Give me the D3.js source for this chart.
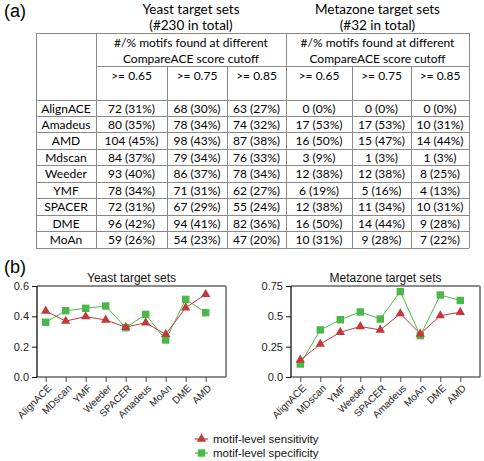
<!DOCTYPE html>
<html><head><meta charset="utf-8">
<script src="https://cdn.jsdelivr.net/npm/d3@7"></script>
<style>
html,body{margin:0;padding:0;background:#fff;}
svg{display:block;}
</style></head>
<body>
<svg id="c" width="484" height="461"></svg>
<script>
// ---------- Table data (a) ----------
const methods = ["AlignACE","Amadeus","AMD","Mdscan","Weeder","YMF","SPACER","DME","MoAn"];
const cutoffs = [">= 0.65", ">= 0.75", ">= 0.85"];
const yeastCount065 = [72,80,104,84,93,78,72,96,59];
const yeastPct065   = [31,35,45,37,40,34,31,42,26];
const yeastCount075 = [68,78,98,79,86,71,67,94,54];
const yeastPct075   = [30,34,43,34,37,31,29,41,23];
const yeastCount085 = [63,74,87,76,78,62,55,82,47];
const yeastPct085   = [27,32,38,33,34,27,24,36,20];
const metaCount065  = [0,17,16,3,12,6,12,16,10];
const metaPct065    = [0,53,50,9,38,19,38,50,31];
const metaCount075  = [0,17,15,1,12,5,11,14,9];
const metaPct075    = [0,53,47,3,38,16,34,44,28];
const metaCount085  = [0,10,14,1,8,4,10,9,7];
const metaPct085    = [0,31,44,3,25,13,31,28,22];

// ---------- Chart data (b) ----------
const tools = ["AlignACE","MDscan","YMF","Weeder","SPACER","Amadeus","MoAn","DME","AMD"];
const yeastSensitivity = [0.435,0.369,0.398,0.376,0.328,0.358,0.281,0.457,0.545];
const yeastSpecificity = [0.361,0.437,0.453,0.468,0.325,0.413,0.244,0.512,0.424];
const metaSensitivity  = [0.14,0.271,0.369,0.416,0.388,0.522,0.355,0.506,0.534];
const metaSpecificity  = [0.107,0.388,0.472,0.536,0.478,0.704,0.341,0.676,0.631];
const yeastTicks = [0,0.2,0.4,0.6];
const metaTicks = [0,0.25,0.5,0.75];
const yeastTickLabels = ["0.0","0.2","0.4","0.6"];
const metaTickLabels = ["0.0","0.25","0.5","0.75"];
const seriesNames = ["motif-level sensitivity","motif-level specificity"];

const RED = "#c0393b", GREEN = "#4cb84c";
const svg = d3.select("#c");
const TF = "Lato, 'Open Sans', sans-serif";
const AF = "'Liberation Sans', Arial, sans-serif";

// ---------- (a) table ----------
svg.append("text").attr("x",4).attr("y",17).attr("font-family",AF).attr("font-size",18).text("(a)");

const colX = [36, 96, 167, 227, 286, 352, 411, 469];
const tTop = 33, h1 = 66, h2 = 100, rowH = 16.45;
const rowScale = d3.scaleBand().domain(methods).range([h2, h2 + rowH*methods.length]).padding(0);
const tBottom = h2 + rowH*methods.length;
const g = svg.append("g").attr("stroke","#8a8a8a").attr("stroke-width",1).attr("shape-rendering","crispEdges");
g.append("line").attr("x1",colX[0]).attr("x2",colX[7]).attr("y1",tTop).attr("y2",tTop);
g.append("line").attr("x1",colX[1]).attr("x2",colX[7]).attr("y1",h1).attr("y2",h1);
methods.forEach(m=>{
  g.append("line").attr("x1",colX[0]).attr("x2",colX[7]).attr("y1",rowScale(m)).attr("y2",rowScale(m));
});
g.append("line").attr("x1",colX[0]).attr("x2",colX[7]).attr("y1",tBottom).attr("y2",tBottom);
[0,1,4,7].forEach(i=>g.append("line").attr("x1",colX[i]).attr("x2",colX[i]).attr("y1",tTop).attr("y2",tBottom));
[2,3,5,6].forEach(i=>g.append("line").attr("x1",colX[i]).attr("x2",colX[i]).attr("y1",h1).attr("y2",tBottom));

const tt = svg.append("g").attr("font-family",TF).attr("fill","#000").attr("text-anchor","middle");
const yc = (colX[1]+colX[4])/2, mc = (colX[4]+colX[7])/2;
tt.append("text").attr("x",yc).attr("y",14).attr("font-size",13.5).text("Yeast target sets");
tt.append("text").attr("x",yc).attr("y",30).attr("font-size",13.5).text("(#230 in total)");
tt.append("text").attr("x",mc).attr("y",14).attr("font-size",13.5).text("Metazone target sets");
tt.append("text").attr("x",mc).attr("y",30).attr("font-size",13.5).text("(#32 in total)");
[yc,mc].forEach(cx=>{
  tt.append("text").attr("x",cx).attr("y",47).attr("font-size",12).text("#/% motifs found at different");
  tt.append("text").attr("x",cx).attr("y",63).attr("font-size",12).text("CompareACE score cutoff");
});
for(let i=0;i<6;i++){
  tt.append("text").attr("x",(colX[i+1]+colX[i+2])/2).attr("y",80).attr("font-size",12).text(cutoffs[i%3]);
}
const columns = [
  [yeastCount065,yeastPct065],[yeastCount075,yeastPct075],[yeastCount085,yeastPct085],
  [metaCount065,metaPct065],[metaCount075,metaPct075],[metaCount085,metaPct085]
];
methods.forEach((m,r)=>{
  const cy = rowScale(m) + rowScale.bandwidth()/2 + 4.3;
  tt.append("text").attr("x",(colX[0]+colX[1])/2).attr("y",cy).attr("font-size",12).text(m);
  columns.forEach((col,c)=>{
    tt.append("text").attr("x",(colX[c+1]+colX[c+2])/2).attr("y",cy).attr("font-size",12)
      .text(`${col[0][r]} (${col[1][r]}%)`);
  });
});

// ---------- (b) charts ----------
svg.append("text").attr("x",4).attr("y",273).attr("font-family",AF).attr("font-size",18).text("(b)");

function chart(opts){
  const {left,right,x0,x1,ymax,ticks,tickLabels,title,sens,spec} = opts;
  const ptop = 286, pbot = 377;
  const x = d3.scalePoint().domain(tools).range([x0,x1]);
  const y = d3.scaleLinear().domain([0,ymax]).range([pbot,ptop]);
  const c = svg.append("g");
  c.append("line").attr("x1",left).attr("x2",right).attr("y1",ptop).attr("y2",ptop).attr("stroke","#8c8c8c").attr("stroke-width",2);
  c.append("line").attr("x1",right).attr("x2",right).attr("y1",ptop).attr("y2",pbot).attr("stroke","#8c8c8c").attr("stroke-width",2);
  c.append("line").attr("x1",left).attr("x2",right).attr("y1",pbot).attr("y2",pbot).attr("stroke","#666").attr("stroke-width",1.5);
  c.append("line").attr("x1",left).attr("x2",left).attr("y1",ptop).attr("y2",pbot).attr("stroke","#111").attr("stroke-width",1.3);
  const ya = c.append("g").attr("transform",`translate(${left},0)`)
    .call(d3.axisLeft(y).tickValues(ticks).tickFormat((d,i)=>tickLabels[i]).tickSize(5).tickSizeOuter(0));
  ya.select(".domain").remove();
  ya.selectAll("line").attr("stroke","#111");
  ya.selectAll("text").attr("font-family",AF).attr("font-size",11).attr("fill","#222").attr("x",-8);
  const xa = c.append("g").attr("transform",`translate(0,${pbot})`)
    .call(d3.axisBottom(x).tickSize(5).tickSizeOuter(0));
  xa.select(".domain").remove();
  xa.selectAll("line").attr("stroke","#444");
  xa.selectAll("text").attr("font-family",AF).attr("font-size",10).attr("fill","#222")
    .attr("text-anchor","end").attr("dy",null).attr("y",0)
    .attr("transform","translate(4,10) rotate(-45)").attr("dominant-baseline","middle");
  c.append("text").attr("x",(left+right)/2).attr("y",282).attr("text-anchor","middle")
    .attr("font-family",AF).attr("font-size",12).attr("fill","#111").text(title);
  const line = d3.line().x((d,i)=>x(tools[i])).y(d=>y(d));
  [[spec,GREEN,d3.symbolSquare,55],[sens,RED,d3.symbolTriangle,38]].forEach(([vals,col,sym,sz])=>{
    c.append("path").attr("d",line(vals)).attr("fill","none").attr("stroke",col).attr("stroke-width",1);
    c.selectAll(null).data(vals).enter().append("path")
      .attr("d",d3.symbol().type(sym).size(sz))
      .attr("transform",(d,i)=>`translate(${x(tools[i])},${y(d)})`)
      .attr("fill",col);
  });
}
chart({left:37,right:226,x0:45.7,x1:205.7,ymax:0.6,ticks:yeastTicks,tickLabels:yeastTickLabels,
  title:"Yeast target sets",sens:yeastSensitivity,spec:yeastSpecificity});
chart({left:291,right:480,x0:300.3,x1:460.3,ymax:0.75,ticks:metaTicks,tickLabels:metaTickLabels,
  title:"Metazone target sets",sens:metaSensitivity,spec:metaSpecificity});

const lg = svg.append("g");
[[RED,d3.symbolTriangle,38,439],[GREEN,d3.symbolSquare,55,453]].forEach(([col,sym,sz,ly],i)=>{
  lg.append("line").attr("x1",195).attr("x2",208).attr("y1",ly).attr("y2",ly).attr("stroke",col).attr("stroke-width",1.2);
  lg.append("path").attr("d",d3.symbol().type(sym).size(sz)).attr("transform",`translate(201.5,${ly})`).attr("fill",col);
  lg.append("text").attr("x",213).attr("y",ly).attr("dy","0.35em").attr("font-family",AF).attr("font-size",11.5)
    .attr("fill","#111").text(seriesNames[i]);
});
</script>
</body></html>
